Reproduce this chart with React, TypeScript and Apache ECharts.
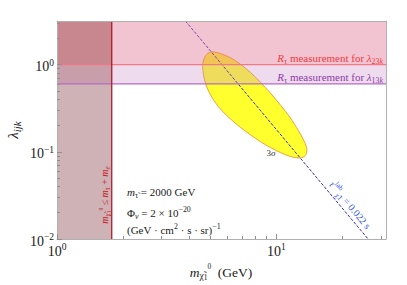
import React, { useEffect, useRef } from 'react';
import * as echarts from 'echarts';

// ---- axis ranges (log scales) ----
const X_MIN = 1;
const X_MAX = 31.62;
const Y_MIN = 0.01;
const Y_MAX = 3.162;

const X_MINOR_TICKS = [2, 3, 4, 5, 6, 7, 8, 9, 20, 30];
const Y_MINOR_TICKS = [
  0.02, 0.03, 0.04, 0.05, 0.06, 0.07, 0.08, 0.09,
  0.2, 0.3, 0.4, 0.5, 0.6, 0.7, 0.8, 0.9, 2, 3,
];

// ---- physics limits ----
const KINEMATIC_LIMIT = 1.777; // m_tau + m_e (GeV)
const R_TAU_LAMBDA23 = 1.0;
const R_TAU_LAMBDA13 = 0.6;

// ---- 3 sigma contour (m_chi [GeV], lambda) ----
const ELLIPSE_3SIGMA: [number, number][] = [
  [5.05, 1.40], [5.55, 1.34], [6.17, 1.20], [6.85, 1.01], [7.61, 0.818],
  [8.45, 0.629], [9.39, 0.472], [10.43, 0.345], [11.58, 0.245], [12.60, 0.175],
  [13.42, 0.131], [13.78, 0.106], [13.56, 0.0908], [12.87, 0.0850], [11.58, 0.0884],
  [10.43, 0.0982], [9.39, 0.112], [8.45, 0.131], [7.61, 0.157], [6.85, 0.191],
  [6.17, 0.239], [5.55, 0.311], [5.11, 0.414], [4.80, 0.567], [4.65, 0.776],
  [4.62, 1.01], [4.75, 1.26],
];

// ---- lab-frame lifetime = 0.022 s line ----
const LIFETIME_LINE: [number, number][] = [[3.85, 3.162], [26.2, 0.01]];

// ---- shaded regions [x0, y0, x1, y1] ----
const REGIONS: number[][] = [
  [X_MIN, Y_MIN, KINEMATIC_LIMIT, R_TAU_LAMBDA13],
  [X_MIN, R_TAU_LAMBDA13, KINEMATIC_LIMIT, R_TAU_LAMBDA23],
  [X_MIN, R_TAU_LAMBDA23, KINEMATIC_LIMIT, Y_MAX],
  [KINEMATIC_LIMIT, R_TAU_LAMBDA13, X_MAX, R_TAU_LAMBDA23],
  [KINEMATIC_LIMIT, R_TAU_LAMBDA23, X_MAX, Y_MAX],
];
const REGION_COLORS = [
  '#cfb2b6',
  '#c89eaa',
  '#c8868f',
  'rgba(198,138,198,0.30)',
  'rgba(224,113,144,0.42)',
];

const SERIF = '"Liberation Serif", "DejaVu Serif", serif';

function powLabel(v: number) {
  const e = Math.round(Math.log10(v));
  return `{b|10}{s|${e < 0 ? '\u2212' + -e : e}}`;
}

const AXIS_RICH = {
  b: { fontSize: 14, fontFamily: SERIF, color: '#1a1a1a', lineHeight: 18 },
  s: { fontSize: 9.5, fontFamily: SERIF, color: '#1a1a1a', lineHeight: 10, verticalAlign: 'top' },
};

function richSet(size: number, color: string) {
  const small = Math.round(size * 0.72 * 10) / 10;
  const tiny = Math.round(size * 0.55 * 10) / 10;
  return {
    n: { fontSize: size, fontFamily: SERIF, fill: color, lineHeight: size + 4 },
    i: { fontSize: size, fontFamily: SERIF, fill: color, fontStyle: 'italic', lineHeight: size + 4 },
    sub: { fontSize: small, fontFamily: SERIF, fill: color, lineHeight: small, verticalAlign: 'bottom' },
    subi: { fontSize: small, fontFamily: SERIF, fill: color, fontStyle: 'italic', lineHeight: small, verticalAlign: 'bottom' },
    sup: { fontSize: small, fontFamily: SERIF, fill: color, lineHeight: small, verticalAlign: 'top' },
    tsub: { fontSize: tiny, fontFamily: SERIF, fill: color, lineHeight: tiny, verticalAlign: 'bottom' },
    tsup: { fontSize: tiny, fontFamily: SERIF, fill: color, lineHeight: tiny + 2, verticalAlign: 'top' },
  };
}

function txt(
  text: string, x: number, y: number, size: number, color: string,
  align: string = 'left', rotation: number = 0,
) {
  return {
    type: 'text',
    x, y, rotation, silent: true, z: 20,
    style: {
      text, fill: color, fontSize: size, fontFamily: SERIF,
      align, verticalAlign: 'middle', lineHeight: size + 4,
      rich: richSet(size, color),
    },
  };
}

const CHI = '\u03C7\u0303';
const TAU_TILDE = '\u03C4\u0303';

export default function App() {
  const ref = useRef<HTMLDivElement>(null);

  useEffect(() => {
    if (!ref.current) return;
    const chart = echarts.init(ref.current, undefined, { renderer: 'svg' });

    const axisLine = { show: true, onZero: false, lineStyle: { color: '#b0b0b0', width: 1 } };
    const tickStyle = { color: '#8f8f8f', width: 1 };

    const option: any = {
      animation: false,
      backgroundColor: '#ffffff',
      grid: { left: 57, top: 21, right: 21, bottom: 46 },
      xAxis: [
        {
          type: 'log', min: X_MIN, max: X_MAX, position: 'bottom', z: 10,
          axisLine,
          axisTick: { show: true, inside: true, length: 5, lineStyle: tickStyle },
          axisLabel: { formatter: powLabel, rich: AXIS_RICH, margin: 3, showMaxLabel: false },
          splitLine: { show: false },
        },
        {
          type: 'log', min: X_MIN, max: X_MAX, position: 'bottom', z: 10,
          axisLine: { show: false },
          axisTick: { show: true, inside: true, length: 3, customValues: X_MINOR_TICKS, lineStyle: tickStyle },
          axisLabel: { show: false },
          splitLine: { show: false },
        },
        {
          type: 'log', min: X_MIN, max: X_MAX, position: 'top', z: 10,
          axisLine,
          axisTick: { show: false },
          axisLabel: { show: false },
          splitLine: { show: false },
        },
      ],
      yAxis: [
        {
          type: 'log', min: Y_MIN, max: Y_MAX, position: 'left', z: 10,
          axisLine,
          axisTick: { show: true, inside: true, length: 5, lineStyle: tickStyle },
          axisLabel: { formatter: powLabel, rich: AXIS_RICH, margin: 3, showMaxLabel: false, padding: [4, 0, 0, 0] },
          splitLine: { show: false },
        },
        {
          type: 'log', min: Y_MIN, max: Y_MAX, position: 'left', z: 10,
          axisLine: { show: false },
          axisTick: { show: true, inside: true, length: 3, customValues: Y_MINOR_TICKS, lineStyle: tickStyle },
          axisLabel: { show: false },
          splitLine: { show: false },
        },
        {
          type: 'log', min: Y_MIN, max: Y_MAX, position: 'right', z: 10,
          axisLine,
          axisTick: { show: false },
          axisLabel: { show: false },
          splitLine: { show: false },
        },
      ],
      series: [
        {
          type: 'custom',
          name: '3sigma',
          z: 1,
          clip: true,
          silent: true,
          data: ELLIPSE_3SIGMA,
          encode: { x: 0, y: 1 },
          renderItem: (params: any, api: any) => {
            if (params.dataIndex !== 0) return null;
            return {
              type: 'polygon',
              shape: { points: ELLIPSE_3SIGMA.map((p) => api.coord(p)), smooth: 0.3 },
              style: { fill: '#ffff2e', stroke: '#f2a03a', lineWidth: 1 },
            };
          },
        },
        {
          type: 'line',
          name: 'lifetime',
          z: 2,
          silent: true,
          symbol: 'none',
          data: LIFETIME_LINE,
          lineStyle: { color: '#2a2ab8', width: 1, type: [3, 1.6] },
        },
        {
          type: 'custom',
          name: 'regions',
          z: 3,
          clip: true,
          silent: true,
          data: REGIONS,
          dimensions: ['x0', 'y0', 'x1', 'y1'],
          encode: { x: [0, 2], y: [1, 3] },
          renderItem: (params: any, api: any) => {
            const p0 = api.coord([api.value(0), api.value(1)]);
            const p1 = api.coord([api.value(2), api.value(3)]);
            return {
              type: 'rect',
              shape: { x: p0[0], y: p1[1], width: p1[0] - p0[0], height: p0[1] - p1[1] },
              style: { fill: REGION_COLORS[params.dataIndex] },
            };
          },
        },
        {
          type: 'line',
          name: 'lambda23',
          z: 4,
          silent: true,
          symbol: 'none',
          data: [[X_MIN, R_TAU_LAMBDA23], [X_MAX, R_TAU_LAMBDA23]],
          lineStyle: { color: '#f07a84', width: 1.2 },
        },
        {
          type: 'line',
          name: 'lambda13',
          z: 4,
          silent: true,
          symbol: 'none',
          data: [[X_MIN, R_TAU_LAMBDA13], [X_MAX, R_TAU_LAMBDA13]],
          lineStyle: { color: '#b66cc4', width: 1.2 },
        },
        {
          type: 'line',
          name: 'kinematic',
          z: 5,
          silent: true,
          symbol: 'none',
          data: [[KINEMATIC_LIMIT, Y_MIN], [KINEMATIC_LIMIT, Y_MAX]],
          lineStyle: { color: '#a30f1f', width: 1.2 },
        },
      ],
      graphic: [
        txt('{i|R}{sub|\u03C4}{n| measurement for }{i|\u03BB}{sub|23}{subi|k}', 383, 58, 11, '#f03c44', 'right'),
        txt('{i|R}{sub|\u03C4}{n| measurement for }{i|\u03BB}{sub|13}{subi|k}', 383, 77, 11, '#8e3aa6', 'right'),
        txt('{n|3}{i|\u03C3}', 271, 153, 9, '#333333', 'center'),
        txt(`{i|m}{sub|${TAU_TILDE}}{n| = 2000 GeV}`, 127, 192, 11, '#1a1a1a'),
        txt('{n|\u03A6}{subi|\u03BD}{n| = 2 \u00D7 10}{sup|\u221220}', 127, 213, 11, '#1a1a1a'),
        txt('{n|(GeV \u00B7 cm}{sup|2}{n| \u00B7 s \u00B7 sr)}{sup|\u22121}', 127, 230, 11, '#1a1a1a'),
        txt(
          `{i|m}{sub|${CHI}}{tsub|1}{tsup|0}{n| \u2264 }{i|m}{sub|\u03C4}{n| + }{i|m}{subi|e}`,
          104.5, 195, 10, '#c41e2c', 'center', Math.PI / 2,
        ),
        txt(
          `{i|\u03C4}{sup|lab}{sub|${CHI}1}{n| = 0.022 s}`,
          350, 205, 10, '#3a58f0', 'center', -0.874,
        ),
        txt('{i|\u03BB}{subi|ijk}', 13, 130, 15, '#1a1a1a', 'center', Math.PI / 2),
        txt(`{i|m}{sub|${CHI}}{tsub|1}{tsup|0}{n|  (GeV)}`, 221, 272, 13.5, '#1a1a1a', 'center'),
      ],
    };

    chart.setOption(option);
    return () => chart.dispose();
  }, []);

  return (
    <div
      ref={ref}
      style={{ position: 'fixed', left: 0, top: 0, width: 407, height: 285, background: '#fff' }}
    />
  );
}
